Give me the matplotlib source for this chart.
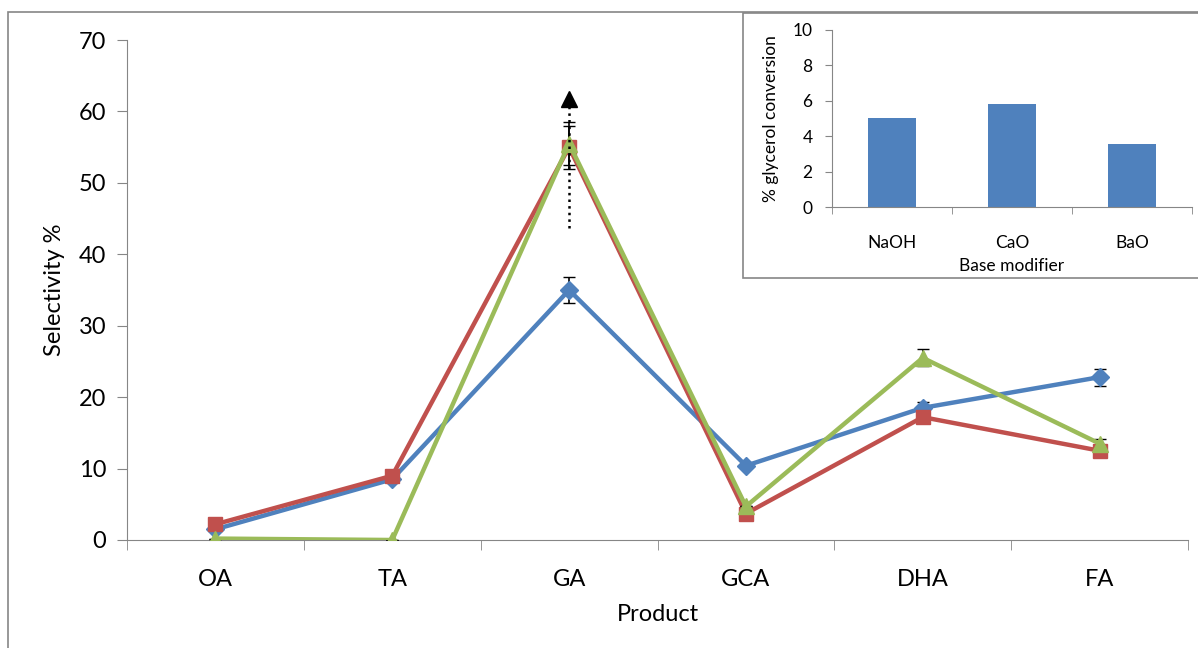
import matplotlib.pyplot as plt
from matplotlib.patches import Rectangle
import numpy as np

plt.rcParams['font.family'] = ['Lato', 'DejaVu Sans']

produtos = ["OA", "TA", "GA", "GCA", "DHA", "FA"]

sel_naoh = [1.5, 8.5, 35.0, 10.4, 18.5, 22.8]
err_naoh = [0, 0, 1.8, 0, 0.8, 1.2]
sel_cao = [2.2, 9.0, 55.0, 3.7, 17.2, 12.5]
err_cao = [0, 0, 3.0, 0, 0, 0]
sel_bao = [0.2, 0.0, 55.5, 4.7, 25.5, 13.5]
err_bao = [0, 0, 3.0, 0, 1.2, 0.6]

# faixa pontilhada em GA
ga_faixa = [43.7, 61.8]

bases = ["NaOH", "CaO", "BaO"]
conversao = [5.05, 5.8, 3.55]

azul = "#4F81BD"
vermelho = "#C0504D"
verde = "#9BBB59"
cinza = "#868686"

fig = plt.figure(figsize=(11.98, 6.48), dpi=100)

# moldura externa
fig.add_artist(Rectangle((8/1198, -0.1), 1.2, 1 - 12/648 + 0.1, transform=fig.transFigure,
                         fill=False, edgecolor=cinza, lw=1.2))

ax = fig.add_axes([127/1198, 1 - 540/648, (1188 - 127)/1198, 500/648])
x = np.arange(len(produtos))

ax.errorbar(x, sel_naoh, yerr=err_naoh, color=azul, lw=3.2, marker="D", ms=9,
            ecolor="black", elinewidth=1.2, capsize=4, zorder=3)
ax.errorbar(x, sel_cao, yerr=err_cao, color=vermelho, lw=3.2, marker="s", ms=10,
            ecolor="black", elinewidth=1.2, capsize=4, zorder=4)
ax.errorbar(x, sel_bao, yerr=err_bao, color=verde, lw=3.2, marker="^", ms=11,
            ecolor="black", elinewidth=1.2, capsize=4, zorder=5)

ax.plot([x[2], x[2]], ga_faixa, ls=":", color="black", lw=1.8, zorder=6)
ax.plot([x[2]], [ga_faixa[1]], marker="^", color="black", ms=11, zorder=6)

ax.set_xlim(-0.5, len(produtos) - 0.5)
ax.set_ylim(0, 70)
ax.set_yticks(range(0, 71, 10))
ax.set_xticks(x)
ax.set_xticklabels(produtos)
ax.set_xticks(np.arange(-0.5, len(produtos)), minor=True)
ax.tick_params(axis="x", which="major", length=0, labelsize=17, pad=21)
ax.tick_params(axis="x", which="minor", length=7, color=cinza, direction="out")
ax.tick_params(axis="y", length=7, color=cinza, labelsize=17, pad=8)
for s in ["top", "right"]:
    ax.spines[s].set_visible(False)
for s in ["left", "bottom"]:
    ax.spines[s].set_color(cinza)
ax.set_xlabel("Product", fontsize=17, labelpad=10)
ax.set_ylabel("Selectivity %", fontsize=17, labelpad=10)
ax.patch.set_alpha(0)

# grafico interno
fig.add_artist(Rectangle((743/1198, 1 - 278/648), 0.5, (278 - 13)/648, transform=fig.transFigure,
                         facecolor="white", edgecolor=cinza, lw=1.2, zorder=10))
ax2 = fig.add_axes([832/1198, 1 - 207/648, (1192 - 832)/1198, (207 - 30)/648], zorder=11)
xb = np.arange(len(bases))
ax2.bar(xb, conversao, width=0.4, color=azul)
ax2.set_xlim(-0.5, len(bases) - 0.5)
ax2.set_ylim(0, 10)
ax2.set_yticks(range(0, 11, 2))
ax2.set_xticks(xb)
ax2.set_xticklabels(bases)
ax2.set_xticks(np.arange(-0.5, len(bases)), minor=True)
ax2.tick_params(axis="x", which="major", length=0, labelsize=12.5, pad=20)
ax2.tick_params(axis="x", which="minor", length=5, color=cinza, direction="out")
ax2.tick_params(axis="y", length=5, color=cinza, labelsize=12.5, pad=9)
for s in ["top", "right"]:
    ax2.spines[s].set_visible(False)
for s in ["left", "bottom"]:
    ax2.spines[s].set_color(cinza)
ax2.set_xlabel("Base modifier", fontsize=12.5, labelpad=5)
ax2.set_ylabel("% glycerol conversion", fontsize=12.5, labelpad=10)
ax2.patch.set_alpha(0)

fig.savefig("out.png", dpi=100)
